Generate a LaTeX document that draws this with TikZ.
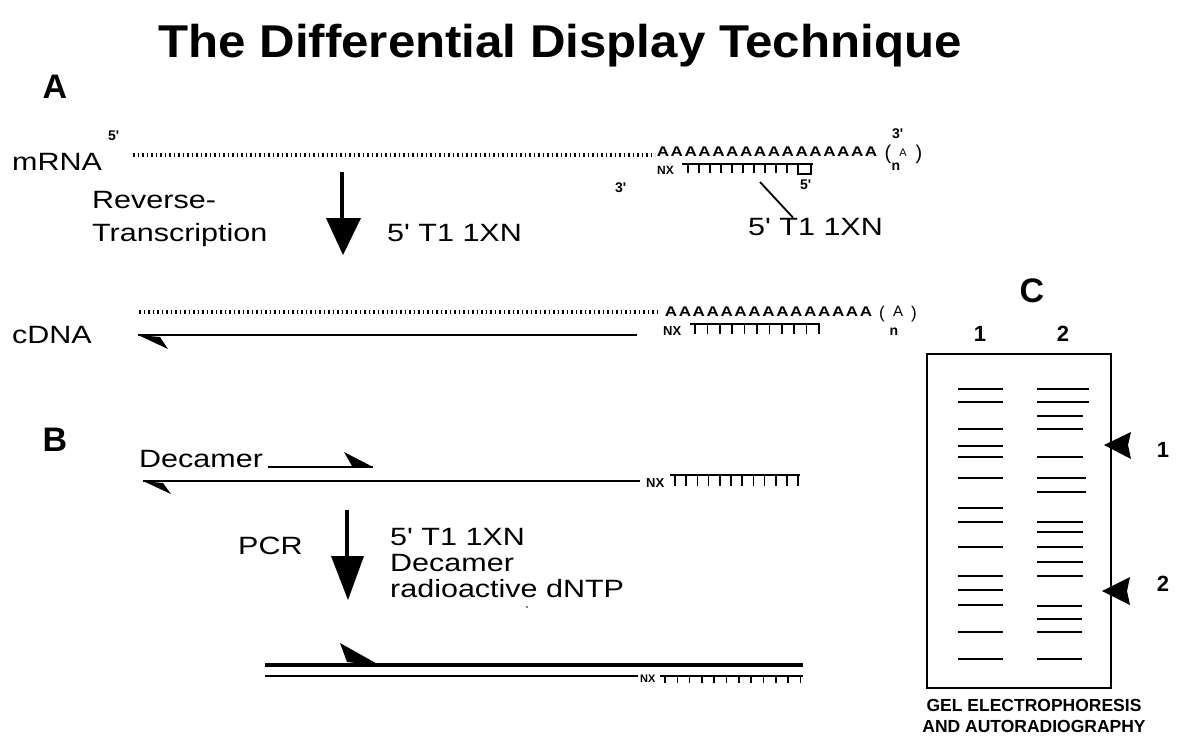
\documentclass[tikz,border=0pt]{standalone}
\usepackage{fontspec}
\setmainfont{Liberation Sans}[FakeStretch=1.22,Ligatures=TeXOff]
\newfontfamily\titlefont{Liberation Sans}[FakeStretch=1.07,Ligatures=TeXOff]
\newfontfamily\plainfont{Liberation Sans}[Ligatures=TeXOff]
\begin{document}
\begin{tikzpicture}[x=1pt,y=-1pt,
  txt/.style={inner sep=0pt,anchor=base west,font=\fontsize{25}{27}\selectfont},
  small/.style={inner sep=0pt,anchor=base west,font=\plainfont\fontsize{14}{15}\selectfont\bfseries},
  base/.style={inner sep=0pt,anchor=base,font=\plainfont\fontsize{14}{15}\selectfont\bfseries},
  polyA/.style={inner sep=0pt,anchor=base,font=\fontsize{14}{15}\selectfont\bfseries},
  panel/.style={inner sep=0pt,anchor=base,font=\plainfont\fontsize{34}{36}\selectfont\bfseries},
  dots/.style={line width=3.4pt,dash pattern=on 1.6pt off 2.9pt},
  strand/.style={line width=2.7pt},
  comb/.style={line width=1.6pt},
  band/.style={line width=2.6pt},
  bigarrow/.style={line width=4pt},
]
\useasboundingbox (0,0) rectangle (1180,740);

% title and panel letters
\node[inner sep=0pt,anchor=base,font=\titlefont\fontsize{46}{50}\selectfont\bfseries] (title) at (560,57) {The Differential Display Technique};
\node[panel] (pA) at (55,98) {A};
\node[panel] (pB) at (55,451) {B};
\node[panel] (pC) at (1032,302) {C};

% ---------- A: mRNA and oligo-dT primer ----------
\node[txt] (mrna) at (12,170) {mRNA};
\node[small] (m5) at (108,140) {5'};
\coordinate (mstart) at (133,155);
\coordinate (mend) at (655,155);
\draw[dots] (mstart) -- (mend);
\foreach \i in {0,...,15}
  \node[polyA] (mA\i) at ({663+13.87*\i},156) {A};
\node[inner sep=0pt,anchor=base,font=\plainfont\fontsize{20}{20}\selectfont] (mpl) at (888,159) {(};
\node[inner sep=0pt,anchor=base,font=\plainfont\fontsize{11}{11}\selectfont] (mpa) at (903,156) {A};
\node[inner sep=0pt,anchor=base,font=\plainfont\fontsize{20}{20}\selectfont] (mpr) at (919,159) {)};
\node[base] (mn) at (896,170) {n};
\node[small] (m3r) at (892,138) {3'};

% primer hybridised under the poly-A tail
\node[small,font=\plainfont\fontsize{12}{13}\selectfont\bfseries] (pNX) at (657,174) {NX};
\draw[comb] (682,164) -- (813,164);
\foreach \i in {0,...,9}
  \draw[comb] ({688+11*\i},164) -- ++(0,9);
\draw[comb] (798,164) -- (798,174) -- (811,174) -- (811,164);
\node[small] (p5) at (800,189) {5'};
\node[small] (p3) at (615,192) {3'};
\coordinate (ptick) at (760,182);
\node[txt] (plabel) at (748,235) {5' T1 1XN};
\draw[line width=1.8pt] (ptick) -- (plabel.north west -| 793,0) ;

% reverse transcription step
\node[txt] (rt1) at (92,208) {Reverse-};
\node[txt] (rt2) at (92,241) {Transcription};
\coordinate (a1top) at (342,172);
\coordinate (a1tip) at (343,255);
\draw[bigarrow] (a1top) -- (342,222);
\fill (326,218) -- (361,218) -- (a1tip) -- cycle;
\node[txt] (rtp) at (387,241) {5' T1 1XN};

% ---------- cDNA ----------
\node[txt] (cdna) at (12,343) {cDNA};
\coordinate (cstart) at (139,312);
\coordinate (cend) at (660,312);
\draw[dots] (cstart) -- (cend);
\foreach \i in {0,...,14}
  \node[polyA] (cA\i) at ({671+13.93*\i},316) {A};
\node[inner sep=0pt,anchor=base,font=\plainfont\fontsize{17}{17}\selectfont] (cpl) at (882,318) {(};
\node[inner sep=0pt,anchor=base,font=\plainfont\fontsize{15}{15}\selectfont] (cpa) at (898,316) {A};
\node[inner sep=0pt,anchor=base,font=\plainfont\fontsize{17}{17}\selectfont] (cpr) at (914,318) {)};
\node[base] (cn) at (894,335) {n};
\coordinate (cl) at (138,335);
\coordinate (cr) at (637,335);
\draw[strand] (cr) -- (cl);
\fill (cl) -- (168,349) -- (160,337) -- cycle;
\node[small,font=\plainfont\fontsize{13}{14}\selectfont\bfseries] (cNX) at (663,335) {NX};
\draw[comb] (690,324) -- (820,324);
\foreach \i in {0,...,10}
  \draw[comb] ({695+12.4*\i},324) -- ++(0,10);

% ---------- B: decamer priming ----------
\node[txt] (dec) at (139,467) {Decamer};
\coordinate (ds) at (268,467);
\coordinate (de) at (373,467);
\draw[strand] (ds) -- (de);
\fill (de) -- (344,452) -- (352,466) -- cycle;
\coordinate (bl) at (143,481);
\coordinate (br) at (640,481);
\draw[strand] (br) -- (bl);
\fill (bl) -- (171,494) -- (163,483) -- cycle;
\node[small,font=\plainfont\fontsize{13}{14}\selectfont\bfseries] (bNX) at (646,487) {NX};
\draw[comb] (670,475) -- (800,475);
\foreach \i in {0,...,11}
  \draw[comb] ({675+11.2*\i},475) -- ++(0,11);

% PCR step
\node[txt] (pcr) at (238,554) {PCR};
\coordinate (a2top) at (347,510);
\coordinate (a2tip) at (348,600);
\draw[bigarrow] (a2top) -- (347,560);
\fill (331,556) -- (364,556) -- (a2tip) -- cycle;
\node[txt] (r1) at (390,545) {5' T1 1XN};
\node[txt] (r2) at (390,571) {Decamer};
\node[txt] (r3) at (390,597) {radioactive dNTP};
\fill (527,607) circle (0.8pt);

% PCR product
\coordinate (ul) at (265,665);
\coordinate (ur) at (803,665);
\draw[line width=3.2pt] (ul) -- (ur);
\fill (381,666) -- (340,643) -- (347,662) -- cycle;
\coordinate (ll) at (265,676);
\coordinate (lr) at (638,676);
\draw[strand] (ll) -- (lr);
\node[small,font=\plainfont\fontsize{11}{12}\selectfont\bfseries] (uNX) at (640,682) {NX};
\draw[comb] (660,676) -- (803,676);
\foreach \i in {0,...,11}
  \draw[comb] ({665+12.3*\i},676) -- ++(0,7);

% ---------- C: gel ----------
\node[inner sep=0pt,anchor=base,font=\plainfont\fontsize{22}{24}\selectfont\bfseries] (l1) at (980,341) {1};
\node[inner sep=0pt,anchor=base,font=\plainfont\fontsize{22}{24}\selectfont\bfseries] (l2) at (1063,341) {2};
\draw[line width=2.6pt] (927,354) rectangle (1111,688);
\foreach \y in {389,402,429,446,457,478,508,522,547,576,590,605,632,659}
  \draw[band] (958,\y) -- (1003,\y);
\foreach \y/\e in {389/1089,402/1089,416/1083,429/1083,457/1083,478/1086,492/1086,522/1083,532/1083,547/1083,562/1083,576/1083,606/1082,619/1082,632/1082,659/1082}
  \draw[band] (1037,\y) -- (\e,\y);
\fill (1104,445) -- (1131,432) -- (1128,445) -- (1131,459) -- cycle;
\fill (1102,591) -- (1130,577) -- (1127,591) -- (1130,605) -- cycle;
\node[inner sep=0pt,anchor=base,font=\plainfont\fontsize{22}{24}\selectfont\bfseries] (g1) at (1163,457) {1};
\node[inner sep=0pt,anchor=base,font=\plainfont\fontsize{22}{24}\selectfont\bfseries] (g2) at (1163,591) {2};
\node[inner sep=0pt,anchor=base,font=\plainfont\fontsize{17.5}{19}\selectfont\bfseries] (gel1) at (1034,711) {GEL ELECTROPHORESIS};
\node[inner sep=0pt,anchor=base,font=\plainfont\fontsize{17.5}{19}\selectfont\bfseries] (gel2) at (1034,732) {AND AUTORADIOGRAPHY};
\end{tikzpicture}
\end{document}
